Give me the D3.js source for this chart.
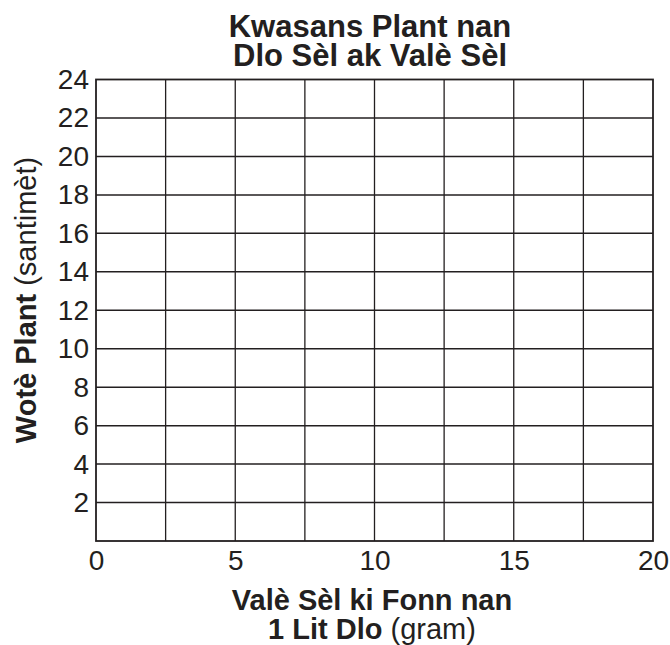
<!DOCTYPE html>
<html><head><meta charset="utf-8">
<script src="https://cdn.jsdelivr.net/npm/d3@7"></script>
<style>body{margin:0;background:#fff}svg{display:block}text{font-family:"Liberation Sans",Arial,sans-serif;fill:#231f20}</style>
</head><body>
<script>
const xTicks = [0, 5, 10, 15, 20];
const xGrid = [2.5, 5, 7.5, 10, 12.5, 15, 17.5];
const yTicks = [2, 4, 6, 8, 10, 12, 14, 16, 18, 20, 22, 24];
const titleLines = ["Kwasans Plant nan", "Dlo Sèl ak Valè Sèl"];

const W = 670, H = 645;
const m = {left: 96, right: 17, top: 79.5, bottom: 104};
const svg = d3.select("body").append("svg").attr("width", W).attr("height", H);
const x = d3.scaleLinear().domain([0, 20]).range([m.left, W - m.right]);
const y = d3.scaleLinear().domain([0, 24]).range([H - m.bottom, m.top]);

const g = svg.append("g");
g.selectAll(".vg").data(xGrid).join("line")
  .attr("x1", d => x(d)).attr("x2", d => x(d)).attr("y1", y(0)).attr("y2", y(24))
  .attr("stroke", "#231f20").attr("stroke-width", 1.3);
g.selectAll(".hg").data(yTicks.filter(d => d < 24)).join("line")
  .attr("x1", x(0)).attr("x2", x(20)).attr("y1", d => y(d)).attr("y2", d => y(d))
  .attr("stroke", "#231f20").attr("stroke-width", 1.5);
g.append("rect").attr("x", x(0)).attr("y", y(24)).attr("width", x(20) - x(0)).attr("height", y(0) - y(24))
  .attr("fill", "none").attr("stroke", "#231f20").attr("stroke-width", 1.8);

// y axis labels
const ya = svg.append("g").attr("transform", `translate(${x(0)},0)`)
  .call(d3.axisLeft(y).tickValues(yTicks).tickSize(0).tickPadding(7));
ya.select(".domain").remove();
ya.selectAll("text").style("font-size", "28px").attr("fill", "#231f20")
  .attr("font-family", "Liberation Sans, Arial, sans-serif");

// x axis labels
const xa = svg.append("g").attr("transform", `translate(0,${y(0)})`)
  .call(d3.axisBottom(x).tickValues(xTicks).tickSize(0).tickPadding(9));
xa.select(".domain").remove();
xa.selectAll("text").style("font-size", "28px").attr("fill", "#231f20")
  .attr("font-family", "Liberation Sans, Arial, sans-serif");

// title
const cx = 370;
svg.append("text").attr("x", cx).attr("y", 37).attr("text-anchor", "middle")
  .style("font-size", "31px").style("font-weight", "bold").text(titleLines[0]);
svg.append("text").attr("x", cx).attr("y", 66).attr("text-anchor", "middle")
  .style("font-size", "31px").style("font-weight", "bold").text(titleLines[1]);

// x title
svg.append("text").attr("x", 372).attr("y", 610).attr("text-anchor", "middle")
  .style("font-size", "29px").style("font-weight", "bold").text("Valè Sèl ki Fonn nan");
const xt2 = svg.append("text").attr("x", 372).attr("y", 639).attr("text-anchor", "middle").style("font-size", "29px");
xt2.append("tspan").style("font-weight", "bold").text("1 Lit Dlo");
xt2.append("tspan").text(" (gram)");

// y title
const yt = svg.append("text").attr("transform", "translate(36,300) rotate(-90)").attr("text-anchor", "middle").style("font-size", "29px");
yt.append("tspan").style("font-weight", "bold").text("Wotè Plant");
yt.append("tspan").text(" (santimèt)");
</script>
</body></html>
